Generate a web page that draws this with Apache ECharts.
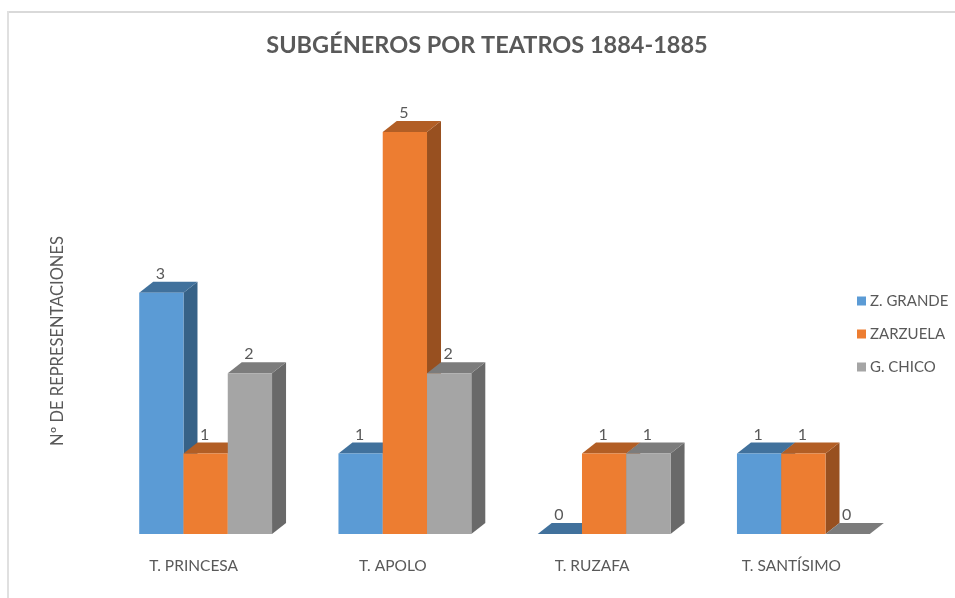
<!DOCTYPE html>
<html><head><meta charset="utf-8">
<style>html,body{margin:0;padding:0;background:#fff}#c{width:955px;height:598px;filter:blur(0.45px)}</style>
<script src="https://cdn.jsdelivr.net/npm/echarts@6/dist/echarts.min.js"></script>
</head><body><div id="c"></div>
<script>
const categories = ['T. PRINCESA', 'T. APOLO', 'T. RUZAFA', 'T. SANTÍSIMO'];
const zGrande = [3, 1, 0, 1];
const zarzuela = [1, 5, 1, 1];
const gChico = [2, 2, 1, 0];
const seriesNames = ['Z. GRANDE', 'ZARZUELA', 'G. CHICO'];
const seriesValues = [zGrande, zarzuela, gChico];
const frontColors = ['#5B9BD5', '#ED7D31', '#A5A5A5'];
const topColors = ['#41719C', '#B25E25', '#7C7C7C'];
const sideColors = ['#376287', '#985020', '#696969'];
const FONT = 'Lato';
const TEXT = '#595959';
const DX = 14, DY = 11, SLOTS = 4.5;

function poly(points, fill) {
  return { type: 'polygon', shape: { points }, style: { fill } };
}
function makeRender(si) {
  return function (params, api) {
    const cat = api.value(0), val = api.value(1);
    const band = api.size([1, 0])[0];
    const w = band / SLOTS;
    const c = api.coord([cat, val]);
    const b = api.coord([cat, 0]);
    const x0 = c[0] + (si - 1.5) * w, x1 = x0 + w, yt = c[1], yb = b[1];
    const kids = [];
    if (val > 0) {
      kids.push(poly([[x1, yt], [x1 + DX, yt - DY], [x1 + DX, yb - DY], [x1, yb]], sideColors[si]));
    }
    kids.push(poly([[x0, yt], [x0 + DX, yt - DY], [x1 + DX, yt - DY], [x1, yt]], topColors[si]));
    if (val > 0) {
      kids.push({ type: 'rect', shape: { x: x0, y: yt, width: w, height: yb - yt }, style: { fill: frontColors[si] } });
    }
    kids.push({ type: 'text', style: { text: String(val), x: (x0 + x1) / 2 - 1, y: yt - 19, align: 'center', verticalAlign: 'middle',
      font: '16px ' + FONT, fill: TEXT } });
    return { type: 'group', children: kids };
  };
}
const chart = echarts.init(document.getElementById('c'), null, { renderer: 'canvas' });
chart.setOption({
  animation: false,
  backgroundColor: '#fff',
  title: { text: 'SUBGÉNEROS POR TEATROS 1884-1885', left: 482, top: 28, textAlign: 'center',
    textStyle: { fontFamily: FONT, fontSize: 23.5, fontWeight: 'bold', color: TEXT } },
  legend: { orient: 'vertical', left: 852, top: 288.5, itemWidth: 9, itemHeight: 9, itemGap: 18, icon: 'rect',
    data: seriesNames, textStyle: { fontFamily: FONT, fontSize: 15, color: TEXT, padding: [0, 0, 0, -1] } },
  grid: { left: 106, width: 797, top: 132, height: 402 },
  xAxis: { type: 'category', data: categories, axisLine: { show: false }, axisTick: { show: false }, splitLine: { show: false },
    axisLabel: { interval: 0, margin: 24, padding: [0, 24, 0, 0], fontFamily: FONT, fontSize: 15.5, color: TEXT } },
  yAxis: { type: 'value', min: 0, max: 5, interval: 1, axisLine: { show: false }, axisTick: { show: false }, splitLine: { show: false },
    axisLabel: { show: false }, name: 'Nº DE REPRESENTACIONES', nameLocation: 'middle', nameRotate: 90, nameGap: 40,
    nameTextStyle: { fontFamily: FONT, fontSize: 16.5, color: TEXT, padding: [0, 16, 0, 0] } },
  graphic: [
    { type: 'line', shape: { x1: 7, y1: 12, x2: 955, y2: 12 }, style: { stroke: '#D9D9D9', lineWidth: 2 }, silent: true },
    { type: 'line', shape: { x1: 8, y1: 11, x2: 8, y2: 598 }, style: { stroke: '#E0E0E0', lineWidth: 2 }, silent: true }
  ],
  series: seriesNames.map((name, si) => ({
    type: 'custom', name, coordinateSystem: 'cartesian2d', clip: false, z: 2 + si,
    itemStyle: { color: frontColors[si] },
    encode: { x: 0, y: 1 },
    data: seriesValues[si].map((v, i) => [i, v]),
    renderItem: makeRender(si)
  }))
});
</script></body></html>
